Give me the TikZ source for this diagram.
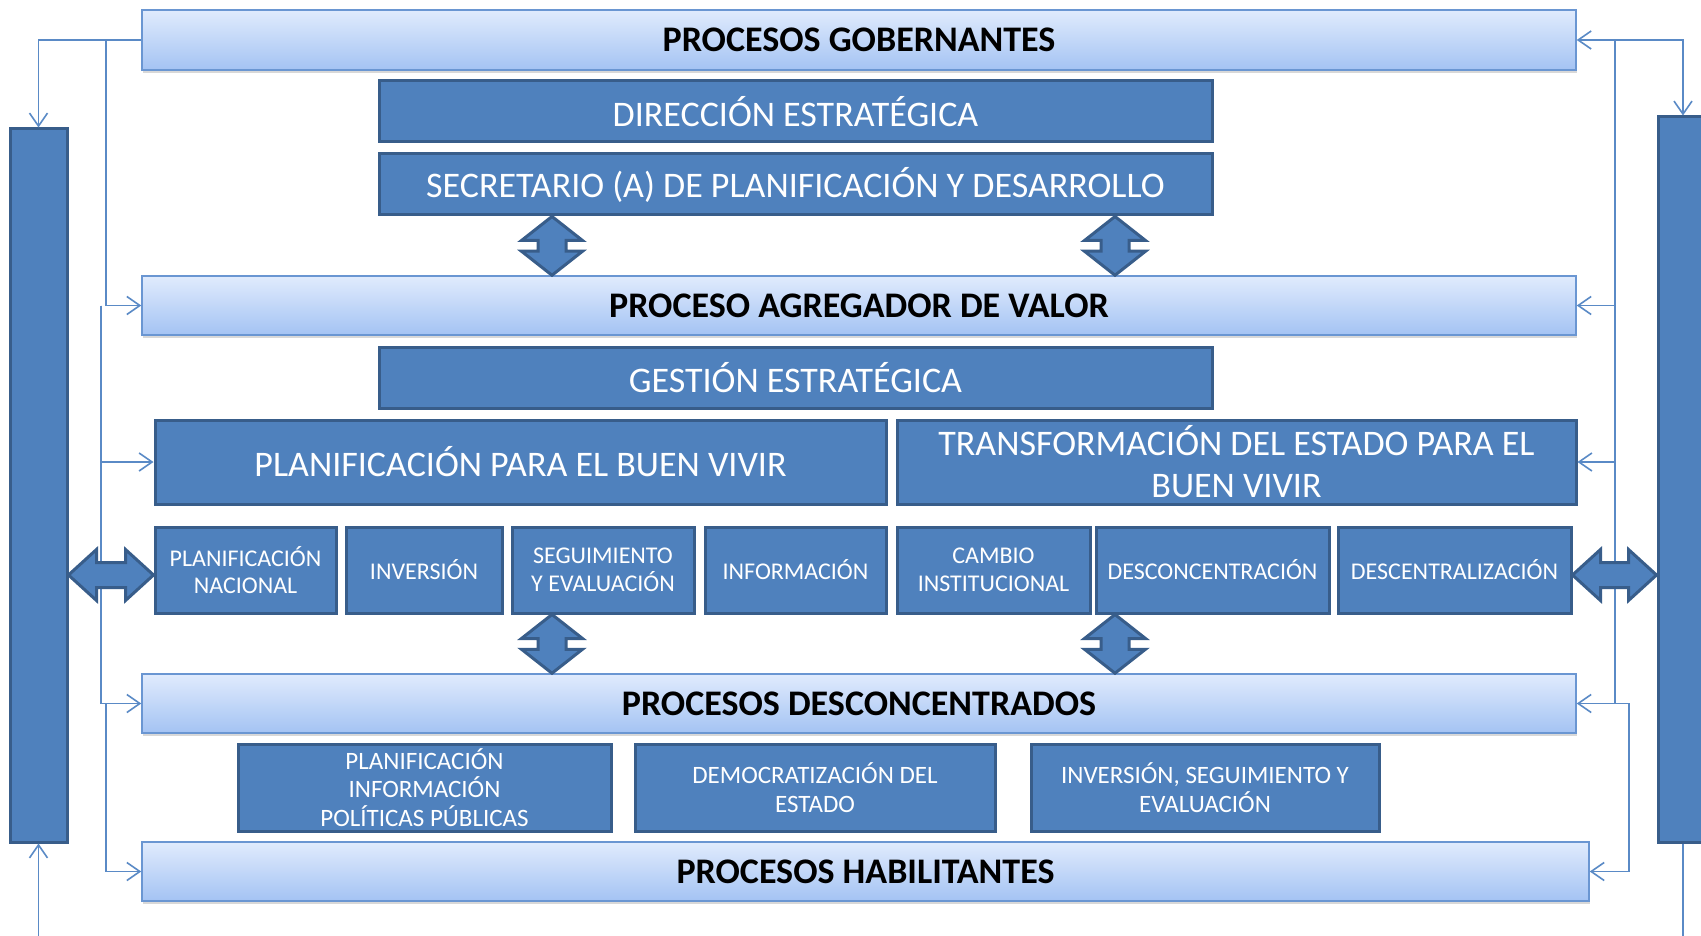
\documentclass[tikz,border=0pt]{standalone}
\usepackage{fontspec}
\setmainfont{Carlito}
\usetikzlibrary{arrows.meta,calc,shadows}
\definecolor{boxfill}{HTML}{4F81BD}
\definecolor{boxline}{HTML}{385D8A}
\definecolor{connc}{HTML}{5A8AC6}
\definecolor{bartop}{HTML}{E0EBFD}
\definecolor{barbot}{HTML}{A4C3F3}
\definecolor{barline}{HTML}{6A96D2}
\tikzset{
 bar/.style={rectangle, draw=barline, line width=1.5pt, top color=bartop, bottom color=barbot,
   font=\bfseries\fontsize{36}{43}\selectfont, text=black, inner sep=0pt,
   drop shadow={shadow xshift=1pt, shadow yshift=-3pt, opacity=0.3}},
 dbox/.style={rectangle, draw=boxline, line width=3pt, fill=boxfill, text=white, inner sep=0pt,
   align=center, font=\fontsize{36}{42}\selectfont},
 sbox/.style={dbox, font=\fontsize{24}{27.5}\selectfont},
 bbox/.style={dbox, font=\fontsize{25}{28.5}\selectfont},
 vbar/.style={rectangle, draw=boxline, line width=3pt, fill=boxfill, inner sep=0pt},
 conn/.style={draw=connc, line width=1.6pt},
 arr/.style={conn, -{Straight Barb[length=13pt,width=18pt,line width=1.6pt]}},
 darr/.style={fill=boxfill, draw=boxline, line width=3pt, line join=miter},
}
\newcommand\hdarr[2]{\path[darr] let \p1=(#1), \p2=(#2) in
  (\x1,\y1) -- (\x1+28pt,\y1+25.5pt) -- (\x1+28pt,\y1+12.5pt) -- (\x2-28pt,\y1+12.5pt)
  -- (\x2-28pt,\y1+25.5pt) -- (\x2,\y1) -- (\x2-28pt,\y1-25.5pt) -- (\x2-28pt,\y1-12.5pt)
  -- (\x1+28pt,\y1-12.5pt) -- (\x1+28pt,\y1-25.5pt) -- cycle;}
\newcommand\vdarr[2]{\path[darr] let \p1=(#1), \p2=(#2) in
  (\x1,\y1) -- (\x1+30.5pt,\y1-24pt) -- (\x1+14pt,\y1-24pt) -- (\x1+14pt,\y2+24pt)
  -- (\x1+30.5pt,\y2+24pt) -- (\x1,\y2) -- (\x1-30.5pt,\y2+24pt) -- (\x1-14pt,\y2+24pt)
  -- (\x1-14pt,\y1-24pt) -- (\x1-30.5pt,\y1-24pt) -- cycle;}
\begin{document}
\begin{tikzpicture}[x=1pt,y=-1pt]
\useasboundingbox (0,0) rectangle (1701,936);
\clip (0,0) rectangle (1701,936);
\fill[white] (0,0) rectangle (1701,936);
% side bars
\node[vbar, minimum width=57pt, minimum height=713pt] (lbar) at (38.5,485.5) {};
\node[vbar, minimum width=50pt, minimum height=725pt] (rbar) at (1683,479.5) {};
% process bars
\node[bar, minimum width=1434pt, minimum height=60pt] (gob) at (859,40) {PROCESOS GOBERNANTES};
\node[bar, minimum width=1434pt, minimum height=59pt] (agr) at (859,305.5) {PROCESO AGREGADOR DE VALOR};
\node[bar, minimum width=1434pt, minimum height=59pt] (des) at (859,703.5) {PROCESOS DESCONCENTRADOS};
\node[bar, minimum width=1447pt, minimum height=59pt] (hab) at (865.5,871.5) {PROCESOS HABILITANTES};
% dark boxes
\node[dbox, minimum width=833pt, minimum height=61pt] (dir) at (795.5,111.5) {DIRECCIÓN ESTRATÉGICA};
\node[dbox, minimum width=833pt, minimum height=61pt] (sec) at (795.5,184.5) {SECRETARIO (A) DE PLANIFICACIÓN Y DESARROLLO};
\node[dbox, minimum width=833pt, minimum height=61pt] (ges) at (795.5,377.5) {GESTIÓN ESTRATÉGICA};
\node[dbox, minimum width=731pt, minimum height=84pt] (pbv) at (520.5,462) {PLANIFICACIÓN PARA EL BUEN VIVIR};
\node[dbox, minimum width=679pt, minimum height=84pt] (tra) at (1236.5,462) {TRANSFORMACIÓN DEL ESTADO PARA EL\\BUEN VIVIR};
% small boxes
\node[sbox, minimum width=181pt, minimum height=86pt] (pn) at (245.5,570) {PLANIFICACIÓN\\NACIONAL};
\node[sbox, minimum width=156pt, minimum height=86pt] (inv) at (424,570) {INVERSIÓN};
\node[sbox, minimum width=182pt, minimum height=86pt] (seg) at (603,570) {SEGUIMIENTO\\Y EVALUACIÓN};
\node[sbox, minimum width=181pt, minimum height=86pt] (inf) at (795.5,570) {INFORMACIÓN};
\node[sbox, minimum width=193pt, minimum height=86pt] (cam) at (993.5,570) {CAMBIO\\INSTITUCIONAL};
\node[sbox, minimum width=233pt, minimum height=86pt] (dco) at (1212.5,570) {DESCONCENTRACIÓN};
\node[sbox, minimum width=233pt, minimum height=86pt] (dce) at (1454.5,570) {DESCENTRALIZACIÓN};
% bottom boxes
\node[bbox, minimum width=373pt, minimum height=87pt] (b1) at (424.5,787.5) {PLANIFICACIÓN\\INFORMACIÓN\\POLÍTICAS PÚBLICAS};
\node[bbox, minimum width=360pt, minimum height=87pt] (b2) at (815,787.5) {DEMOCRATIZACIÓN DEL\\ESTADO};
\node[bbox, minimum width=348pt, minimum height=87pt] (b3) at (1205,787.5) {INVERSIÓN, SEGUIMIENTO Y\\EVALUACIÓN};
% left connectors
\coordinate (L1) at (106,40);
\coordinate (L2) at (101,305.5);
\coordinate (L3) at (106,703.5);
\draw[arr] (gob.west) -| (lbar.north);
\draw[arr] (L1) |- (agr.west);
\draw[arr] (L2) |- (pbv.west);
\draw[arr] (L2) |- (des.west);
\draw[arr] (L3) |- (hab.west);
\draw[arr] (lbar.south |- 0,936) -- (lbar.south);
% right connectors
\coordinate (R1) at (1615,40);
\coordinate (R2) at (1615,703.5);
\coordinate (R3) at (1629,703.5);
\draw[arr] (R1) -- (gob.east);
\draw[arr] (R1) -| (rbar.north);
\draw[conn] (R1) -- (R2);
\draw[arr] (R1 |- agr.east) -- (agr.east);
\draw[arr] (R1 |- tra.east) -- (tra.east);
\draw[arr] (R2) -- (des.east);
\draw[arr] (R2) -- (R3) |- (hab.east);
\draw[conn] (rbar.south) -- (rbar.south |- 0,936);
% double arrows
\hdarr{lbar.east |- 0,575}{pn.west |- 0,575}
\hdarr{dce.east |- 0,575}{rbar.west |- 0,575}
\vdarr{sec.south -| 552,0}{agr.north -| 552,0}
\vdarr{sec.south -| 1115,0}{agr.north -| 1115,0}
\vdarr{seg.south -| 552,0}{des.north -| 552,0}
\vdarr{dco.south -| 1115,0}{des.north -| 1115,0}
\end{tikzpicture}
\end{document}
